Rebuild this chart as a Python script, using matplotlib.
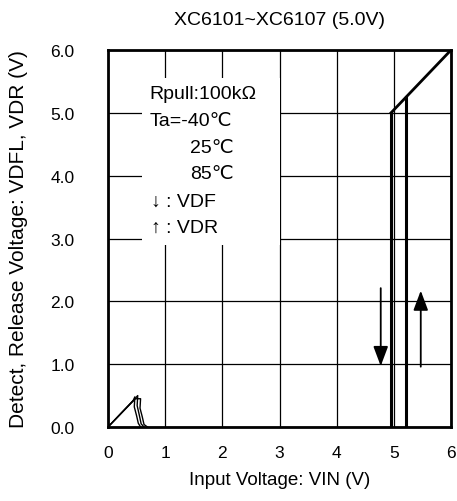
import matplotlib
matplotlib.use("Agg")
import matplotlib.pyplot as plt
from matplotlib.patches import Rectangle

plt.rcParams["font.family"] = ["Liberation Sans", "DejaVu Sans"]

# start-up bump (three temperatures)
bump_x = [[0.0, 0.44, 0.47, 0.46, 0.50, 0.53, 0.57],
          [0.0, 0.46, 0.52, 0.51, 0.55, 0.58, 0.63],
          [0.0, 0.48, 0.57, 0.56, 0.60, 0.63, 0.69]]
bump_y = [[0.0, 0.42, 0.48, 0.32, 0.18, 0.06, 0.0],
          [0.0, 0.44, 0.50, 0.34, 0.18, 0.05, 0.0],
          [0.0, 0.45, 0.45, 0.30, 0.16, 0.04, 0.0]]

# detect / release transitions
vdf = 4.95
vdr = 5.22
diag_x = [4.95, 6.0]
diag_y = [5.0, 6.0]
vdr_top = 5.25

# arrows (x, start y, end y)
arrow_down = (4.77, 2.21, 0.97)
arrow_up = (5.47, 0.96, 2.17)

xticks = [0, 1, 2, 3, 4, 5, 6]
yticks = [0.0, 1.0, 2.0, 3.0, 4.0, 5.0, 6.0]

fig = plt.figure(figsize=(4.57, 5.02), dpi=100)
ax = fig.add_axes([0.2363, 0.1474, 0.7507, 0.751])
ax.set_xlim(0, 6)
ax.set_ylim(0, 6)
ax.set_xticks(xticks)
ax.set_yticks(yticks)
ax.set_xticklabels([str(t) for t in xticks])
ax.set_yticklabels([f"{t:.1f}" for t in yticks])
ax.tick_params(length=0, labelsize=12.5)
ax.tick_params(axis="x", pad=13)
ax.tick_params(axis="y", pad=24)
ax.set_axisbelow(True)
ax.grid(True, color="black", linewidth=0.9)
for s in ax.spines.values():
    s.set_linewidth(2.0)

# white box behind the legend text
ax.add_patch(Rectangle((0.6, 2.9), 2.4, 2.65, facecolor="white",
                       edgecolor="none", zorder=1))

for bx, by in zip(bump_x, bump_y):
    ax.plot(bx, by, color="black", linewidth=1.0, zorder=3)

ax.plot([vdf, vdf], [0, diag_y[0]], color="black", linewidth=2.2, zorder=3)
ax.plot([vdr, vdr], [0, vdr_top], color="black", linewidth=2.2, zorder=3)
ax.plot(diag_x, diag_y, color="black", linewidth=2.0, zorder=3)

for x0, y0, y1 in (arrow_down, arrow_up):
    ax.annotate("", xy=(x0, y1), xytext=(x0, y0),
                arrowprops=dict(arrowstyle="-|>,head_length=1.2,head_width=0.45",
                                color="black", lw=1.3, shrinkA=0, shrinkB=0),
                zorder=4)

fs = 14
ax.text(0.73, 5.3, "Rpull:100kΩ", fontsize=fs, va="center", zorder=5)
ax.text(0.73, 4.88, "Ta=-40℃", fontsize=fs, va="center", zorder=5)
ax.text(1.43, 4.45, "25℃", fontsize=fs, va="center", zorder=5)
ax.text(1.43, 4.04, "85℃", fontsize=fs, va="center", zorder=5)
ax.text(0.76, 3.6, "↓ : VDF", fontsize=fs, va="center", zorder=5)
ax.text(0.76, 3.18, "↑ : VDR", fontsize=fs, va="center", zorder=5)

ax.set_xlabel("Input Voltage: VIN (V)", fontsize=13.5, labelpad=8)
ax.set_ylabel("Detect, Release Voltage: VDFL, VDR (V)", fontsize=15, labelpad=16)
ax.set_title("XC6101~XC6107 (5.0V)", fontsize=14, pad=19, x=0.5)

fig.savefig("out.png", dpi=100)
